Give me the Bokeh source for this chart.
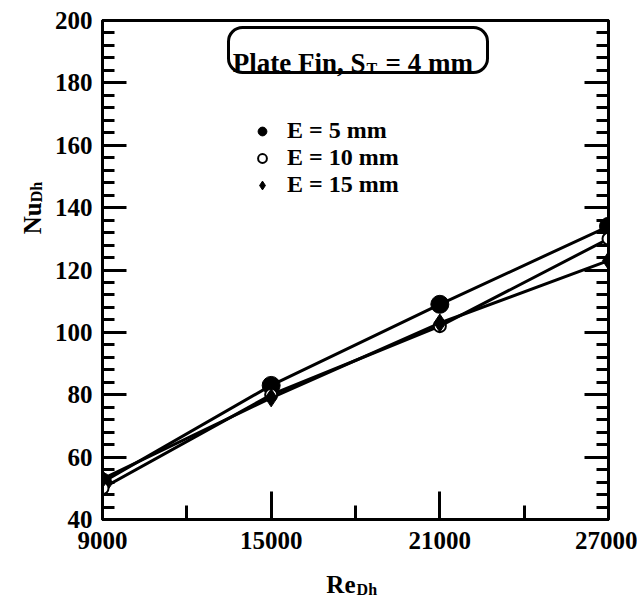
from bokeh.plotting import figure
from bokeh.models import (Range1d, LinearAxis, FixedTicker, Label, BoxAnnotation,
                          Legend, LegendItem)
from bokeh.embed import file_html
from bokeh.resources import INLINE

# Reynolds number (hydraulic diameter) and Nusselt number per fin height E
re_dh = [9000, 15000, 21000, 27000]
nu_e5 = [52, 83, 109, 134]
nu_e10 = [50, 80, 102, 130]
nu_e15 = [53, 79, 103, 123]

x_ticks = [9000, 15000, 21000, 27000]
y_ticks = [40, 60, 80, 100, 120, 140, 160, 180, 200]

FONT = "Liberation Serif"
FS = "25px"

p = figure(width=637, height=606, output_backend="svg", toolbar_location=None,
           x_range=Range1d(9000, 27000), y_range=Range1d(40, 200),
           min_border_left=102, min_border_right=29, min_border_top=20,
           min_border_bottom=87, background_fill_color="white",
           border_fill_color="white")
p.grid.visible = False
p.outline_line_color = "black"
p.outline_line_width = 3


def style_axis(ax, major_in, minor_in):
    ax.axis_line_width = 3
    ax.axis_line_color = "black"
    ax.major_tick_in = major_in
    ax.major_tick_out = 0
    ax.minor_tick_in = minor_in
    ax.minor_tick_out = 0
    ax.major_tick_line_width = 3
    ax.minor_tick_line_width = 3
    ax.major_label_text_font = FONT
    ax.major_label_text_font_style = "bold"
    ax.major_label_text_font_size = FS
    ax.major_label_text_color = "black"


xa = p.xaxis[0]
xa.ticker = FixedTicker(ticks=x_ticks, minor_ticks=[12000, 18000, 24000])
style_axis(xa, 28, 14)
xa.major_label_standoff = 12

ya = p.yaxis[0]
ya.ticker = FixedTicker(ticks=y_ticks, minor_ticks=list(range(40, 201, 4)))
style_axis(ya, 24, 12)
ya.major_label_standoff = 10

# tick marks only on the right-hand frame edge
ry = LinearAxis(ticker=FixedTicker(ticks=y_ticks, minor_ticks=list(range(40, 201, 4))))
style_axis(ry, 24, 12)
ry.major_label_overrides = {t: "" for t in y_ticks}
p.add_layout(ry, "right")

# series lines and markers
for vals in (nu_e5, nu_e10, nu_e15):
    p.line(re_dh, vals, line_color="black", line_width=3)

r5 = p.scatter(re_dh, nu_e5, marker="circle", size=18, fill_color="black",
               line_color="black")
r10 = p.scatter(re_dh, nu_e10, marker="circle", size=12, fill_color="white",
                line_color="black", line_width=2)
r15 = p.scatter(re_dh, nu_e15, marker="diamond", size=18, fill_color="black",
                line_color="black")

legend = Legend(items=[LegendItem(label="E = 5 mm", renderers=[r5]),
                       LegendItem(label="E = 10 mm", renderers=[r10]),
                       LegendItem(label="E = 15 mm", renderers=[r15])],
                location=(149, 321), border_line_color=None,
                background_fill_alpha=0, label_text_font=FONT,
                label_text_font_style="bold", label_text_font_size="24px",
                label_text_color="black", label_text_line_height=0.9,
                glyph_width=22, glyph_height=22, label_height=22, spacing=0,
                label_standoff=14, padding=0, margin=0)
p.add_layout(legend)

# boxed heading
p.add_layout(BoxAnnotation(left=126, right=385, top=492, bottom=447,
                           left_units="screen", right_units="screen",
                           top_units="screen", bottom_units="screen",
                           fill_color="white", fill_alpha=1, line_alpha=1,
                           line_color="black", line_width=3, border_radius=14))


def txt(x, y, s, size=FS, align="left", angle=0.0, side="center", units="screen"):
    lab = Label(x=x, y=y, x_units=units, y_units=units, text=s,
                text_font=FONT, text_font_style="bold", text_font_size=size,
                text_align=align, text_baseline="alphabetic", angle=angle,
                text_color="black")
    if side == "center":
        p.add_layout(lab)
    else:
        p.add_layout(lab, side)


txt(263, 457, "Plate Fin, S", size="27px", align="right")
txt(264, 451, "T", size="16px")
txt(283, 457, "= 4 mm", size="27px")

# axis titles with subscripts, anchored in data units so that
# the stacked side panels do not shift them
txt(18000, 19.0, "Re", align="right", side="below", units="data")
txt(18040, 17.4, "Dh", size="16px", side="below", units="data")
txt(6500, 141.7, "Nu", align="right", angle=1.5708, side="left", units="data")
txt(6650, 141.7, "Dh", size="16px", angle=1.5708, side="left", units="data")

open("out.html", "w").write(file_html(p, INLINE))
